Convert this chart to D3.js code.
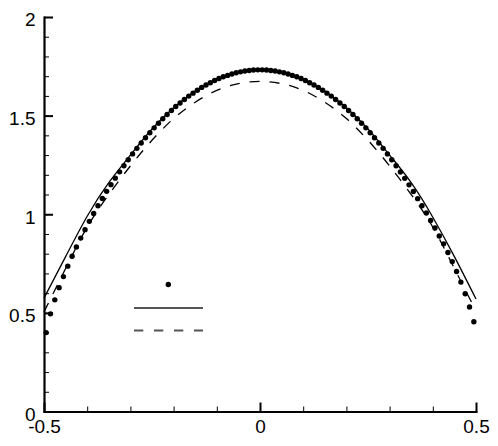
<!DOCTYPE html>
<html>
<head>
<meta charset="utf-8">
<script src="https://cdn.jsdelivr.net/npm/d3@7"></script>
<style>
  body { margin: 0; background: #fff; }
  svg { display: block; }
  .axis text { font-family: "Liberation Sans", Arial, Helvetica, sans-serif; font-size: 19px; fill: #000; }
</style>
</head>
<body>
<div id="chart"></div>
<script>
// dots: one value per cell, cells of width 0.01 centred from -0.495 to 0.495
const dotStart = -0.495;
const dotStep = 0.01;
const dotY = [
  0.400, 0.495, 0.566, 0.628, 0.684, 0.737, 0.787, 0.834, 0.879, 0.922,
  0.964, 1.004, 1.043, 1.080, 1.116, 1.150, 1.183, 1.215, 1.246, 1.276,
  1.306, 1.334, 1.361, 1.388, 1.413, 1.438, 1.461, 1.484, 1.506, 1.526,
  1.546, 1.564, 1.582, 1.599, 1.614, 1.629, 1.643, 1.655, 1.667, 1.678,
  1.688, 1.697, 1.704, 1.711, 1.717, 1.722, 1.726, 1.729, 1.731, 1.732,
  1.732, 1.731, 1.729, 1.726, 1.722, 1.717, 1.711, 1.704, 1.697, 1.688,
  1.678, 1.667, 1.655, 1.643, 1.629, 1.614, 1.599, 1.582, 1.564, 1.546,
  1.526, 1.506, 1.484, 1.461, 1.438, 1.413, 1.388, 1.361, 1.334, 1.306,
  1.276, 1.246, 1.214, 1.182, 1.149, 1.115, 1.079, 1.043, 1.006, 0.968,
  0.930, 0.890, 0.850, 0.806, 0.760, 0.710, 0.656, 0.597, 0.530, 0.455
];

// the two curves, read every 0.05
const lineX = [-0.5, -0.45, -0.4, -0.35, -0.3, -0.25, -0.2, -0.15, -0.1, -0.05, 0,
               0.05, 0.1, 0.15, 0.2, 0.25, 0.3, 0.35, 0.4, 0.45, 0.5];
const solidY = [0.575, 0.785, 0.990, 1.160, 1.300, 1.432, 1.540, 1.625, 1.685, 1.720, 1.732,
                1.720, 1.685, 1.625, 1.540, 1.432, 1.300, 1.160, 0.985, 0.785, 0.570];
const dashedY = [0.505, 0.725, 0.935, 1.100, 1.245, 1.375, 1.485, 1.568, 1.628, 1.662, 1.674,
                 1.662, 1.628, 1.568, 1.485, 1.375, 1.245, 1.100, 0.935, 0.725, 0.510];

const xMajor = [-0.5, 0, 0.5];
const yMajor = [0, 0.5, 1, 1.5, 2];

const width = 498, height = 446;
const margin = {left: 44, right: 476, top: 17, bottom: 411.5};

const svg = d3.select("#chart").append("svg")
    .attr("width", width)
    .attr("height", height);

const x = d3.scaleLinear().domain([-0.5, 0.5]).range([margin.left, margin.right]);
const y = d3.scaleLinear().domain([0, 2]).range([margin.bottom, margin.top]);

const dots = dotY.map((v, i) => ({x: dotStart + i * dotStep, y: v}));

const line = d3.line()
    .x(d => x(d[0]))
    .y(d => y(d[1]))
    .curve(d3.curveNatural);

svg.append("path")
    .datum(lineX.map((d, i) => [d, solidY[i]]))
    .attr("d", line)
    .attr("fill", "none")
    .attr("stroke", "#000")
    .attr("stroke-width", 1.3);

svg.append("path")
    .datum(lineX.map((d, i) => [d, dashedY[i]]))
    .attr("d", line)
    .attr("fill", "none")
    .attr("stroke", "#000")
    .attr("stroke-width", 1.3)
    .attr("stroke-dasharray", "10,10");

svg.append("g").selectAll("circle")
    .data(dots)
    .join("circle")
    .attr("cx", d => x(d.x))
    .attr("cy", d => y(d.y))
    .attr("r", 2.7)
    .attr("fill", "#000");

// minor ticks
svg.append("g")
    .attr("class", "axis")
    .attr("transform", `translate(0,${margin.bottom})`)
    .call(d3.axisBottom(x).tickValues(x.ticks(10)).tickSize(-5).tickSizeOuter(0).tickFormat(""))
    .call(g => g.select(".domain").remove())
    .call(g => g.selectAll(".tick line").attr("stroke-width", 1));

svg.append("g")
    .attr("class", "axis")
    .attr("transform", `translate(${margin.left},0)`)
    .call(d3.axisLeft(y).tickValues(y.ticks(20)).tickSize(-5).tickSizeOuter(0).tickFormat(""))
    .call(g => g.select(".domain").remove())
    .call(g => g.selectAll(".tick line").attr("stroke-width", 1));

// major ticks + labels
svg.append("g")
    .attr("class", "axis")
    .attr("transform", `translate(0,${margin.bottom})`)
    .call(d3.axisBottom(x).tickValues(xMajor).tickSize(-9).tickSizeOuter(0).tickPadding(8.5).tickFormat(d => String(d)))
    .call(g => g.select(".domain").attr("stroke-width", 2.2).attr("stroke-linecap", "square"))
    .call(g => g.selectAll(".tick line").attr("stroke-width", 2));

svg.append("g")
    .attr("class", "axis")
    .attr("transform", `translate(${margin.left},0)`)
    .call(d3.axisLeft(y).tickValues(yMajor).tickSize(-9).tickSizeOuter(0).tickPadding(8.5).tickFormat(d => String(d)))
    .call(g => g.select(".domain").attr("stroke-width", 2.2).attr("stroke-linecap", "square"))
    .call(g => g.selectAll(".tick line").attr("stroke-width", 2))
    .call(g => g.selectAll(".tick text").attr("dy", "0.46em"));

// legend (no labels in the original)
const legend = svg.append("g");
legend.append("circle")
    .attr("cx", 168.3).attr("cy", 284.5).attr("r", 2.7)
    .attr("fill", "#000");
legend.append("line")
    .attr("x1", 134).attr("x2", 203).attr("y1", 308).attr("y2", 308)
    .attr("stroke", "#555").attr("stroke-width", 1.8);
legend.append("line")
    .attr("x1", 134).attr("x2", 203).attr("y1", 330.5).attr("y2", 330.5)
    .attr("stroke", "#555").attr("stroke-width", 1.8)
    .attr("stroke-dasharray", "9.3,10.7");
</script>
</body>
</html>
